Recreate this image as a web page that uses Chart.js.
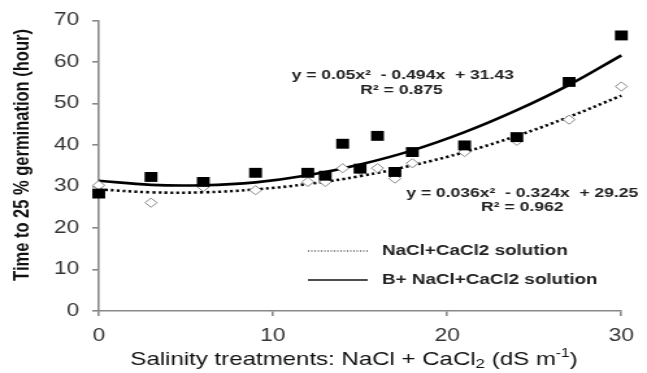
<!DOCTYPE html>
<html>
<head>
<meta charset="utf-8">
<script src="https://cdn.jsdelivr.net/npm/chart.js@4"></script>
<style>
  html, body { margin: 0; padding: 0; background: #fff; overflow: hidden; }
  /* the original picture is stretched sideways, so the chart is drawn narrow and scaled */
  #wrap { width: 498px; height: 373px; transform: scale(1.2992, 1); transform-origin: 0 0; }
</style>
</head>
<body>
<div id="wrap"><canvas id="chart" width="498" height="373"></canvas></div>
<script>
// Salinity levels (dS m-1)
const salinity = [0, 3, 6, 9, 12, 13, 14, 15, 16, 17, 18, 21, 24, 27, 30];

// Time to 25 % germination (hour)
const naclTime  = [30.3, 26.1, 29.9, 29.1, 31.1, 31.1, 34.4, 34.0, 34.4, 31.9, 35.6, 38.3, 41.0, 46.1, 54.1];
const bNaclTime = [28.3, 32.3, 31.1, 33.3, 33.3, 32.6, 40.3, 34.3, 42.2, 33.5, 38.3, 39.9, 41.9, 55.2, 66.4];

// Trend lines
const trendX     = [0, 3, 6, 9, 12, 15, 18, 21, 24, 27, 30];
const naclTrend  = [29.3, 28.6, 28.6, 29.3, 30.6, 32.5, 35.1, 38.3, 42.2, 46.8, 51.9];
const bNaclTrend = [31.4, 30.4, 30.3, 31.0, 32.7, 35.3, 38.7, 43.1, 48.4, 54.5, 61.6];

const xTicks = [0, 10, 20, 30];
const seriesNames = ["NaCl+CaCl2 solution", "B+ NaCl+CaCl2 solution"];
const equations = [
  ["y = 0.036x\u00B2  - 0.324x  + 29.25", "R\u00B2 = 0.962"],
  ["y = 0.05x\u00B2  - 0.494x  + 31.43", "R\u00B2 = 0.875"]
];

const pts = (xs, ys) => xs.map((x, i) => ({ x: x, y: ys[i] }));

const overlay = {
  id: "overlay",
  afterDraw(chart) {
    const ctx = chart.ctx;
    ctx.save();
    ctx.fillStyle = "#111";
    ctx.textBaseline = "middle";

    // y axis title
    ctx.save();
    ctx.translate(17, 155);
    ctx.rotate(-Math.PI / 2);
    ctx.textAlign = "center";
    ctx.font = "bold 16.5px 'Liberation Sans', Arial, sans-serif";
    ctx.fillText("Time to 25 % germination (hour)", 0, 0);
    ctx.restore();

    // x axis title with sub/superscripts
    const parts = [
      ["Salinity treatments: NaCl + CaCl", 18.5, 0],
      ["2", 13, 4],
      [" (dS m", 18.5, 0],
      ["-1", 12, -6],
      [")", 18.5, 0]
    ];
    let total = 0;
    parts.forEach(p => { ctx.font = p[1] + "px 'Liberation Sans', Arial, sans-serif"; total += ctx.measureText(p[0]).width; });
    let x = 272.5 - total / 2;
    ctx.textAlign = "left";
    parts.forEach(p => {
      ctx.font = p[1] + "px 'Liberation Sans', Arial, sans-serif";
      ctx.fillText(p[0], x, 360 + p[2]);
      x += ctx.measureText(p[0]).width;
    });

    // trend equations
    ctx.textAlign = "center";
    ctx.font = "bold 13.5px 'Liberation Sans', Arial, sans-serif";
    ctx.fillStyle = "#222";
    ctx.fillText(equations[1][0], 310, 75);
    ctx.fillText(equations[1][1], 309, 90);
    ctx.fillText(equations[0][0], 402, 193);
    ctx.fillText(equations[0][1], 402, 207);

    // legend
    ctx.strokeStyle = "#111";
    ctx.lineWidth = 1.2;
    ctx.setLineDash([1, 1.5]);
    ctx.beginPath(); ctx.moveTo(237, 251); ctx.lineTo(283, 251); ctx.stroke();
    ctx.setLineDash([]);
    ctx.lineWidth = 1.6;
    ctx.beginPath(); ctx.moveTo(237, 280); ctx.lineTo(283, 280); ctx.stroke();
    ctx.textAlign = "left";
    ctx.font = "bold 14.5px 'Liberation Sans', Arial, sans-serif";
    ctx.fillText(seriesNames[0], 294, 251);
    ctx.fillText(seriesNames[1], 294, 280);
    ctx.restore();
  }
};

new Chart(document.getElementById("chart"), {
  type: "scatter",
  data: {
    datasets: [
      {
        label: seriesNames[1] + " points",
        data: pts(salinity, bNaclTime),
        pointStyle: "rect",
        pointRadius: 7,
        backgroundColor: "#000",
        borderColor: "#000",
        borderWidth: 0,
        clip: false
      },
      {
        label: seriesNames[0] + " points",
        data: pts(salinity, naclTime),
        pointStyle: "rectRot",
        pointRadius: 4.6,
        backgroundColor: "#fff",
        borderColor: "#888",
        borderWidth: 1,
        clip: false
      },
      {
        label: seriesNames[1],
        data: pts(trendX, bNaclTrend),
        showLine: true,
        pointRadius: 0,
        borderColor: "#000",
        borderWidth: 2.6,
        tension: 0.4,
        clip: false
      },
      {
        label: seriesNames[0],
        data: pts(trendX, naclTrend),
        showLine: true,
        pointRadius: 0,
        borderColor: "#000",
        borderWidth: 2.6,
        borderDash: [2.2, 2.4],
        tension: 0.4,
        clip: false
      }
    ]
  },
  options: {
    responsive: false,
    animation: false,
    layout: { padding: { top: 20, right: 14.6, bottom: 0, left: 0 } },
    plugins: { legend: { display: false }, tooltip: { enabled: false } },
    scales: {
      x: {
        type: "linear",
        min: 0,
        max: 30,
        afterBuildTicks: s => { s.ticks = xTicks.map(v => ({ value: v })); },
        afterFit: s => { s.height = 62; },
        border: { display: true, color: "#888", width: 1.6 },
        grid: { drawOnChartArea: false, drawTicks: true, tickLength: 5, color: "#888", lineWidth: 1.6 },
        ticks: { color: "#333", padding: 10, maxRotation: 0, font: { family: "'Liberation Sans', Arial, sans-serif", size: 17.5 } }
      },
      y: {
        min: 0,
        max: 70,
        afterFit: s => { s.width = 76; },
        border: { display: true, color: "#888", width: 1.6 },
        grid: { drawOnChartArea: false, drawTicks: true, tickLength: 5, color: "#888", lineWidth: 1.6 },
        ticks: { stepSize: 10, color: "#333", padding: 10, font: { family: "'Liberation Sans', Arial, sans-serif", size: 17.5 } }
      }
    }
  },
  plugins: [overlay]
});
</script>
</body>
</html>
